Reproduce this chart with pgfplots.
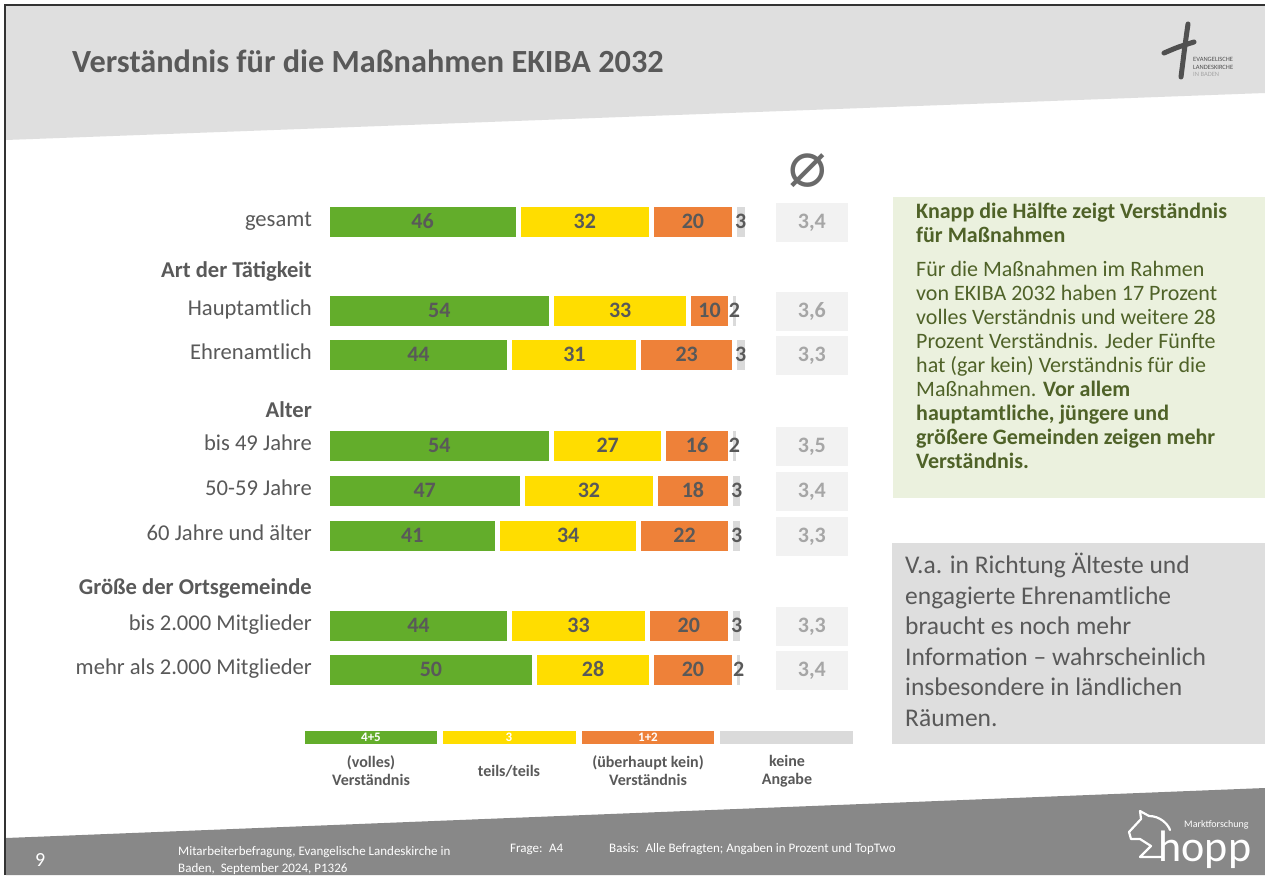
\documentclass[border=0pt]{standalone}
\usepackage{pgfplots}
\pgfplotsset{compat=1.18}
\usepackage{pgfplotstable}
\usepackage{fontspec}
\setmainfont{Carlito}
\newfontfamily\djv{DejaVu Sans}
\definecolor{cgreen}{HTML}{63AD2B}
\definecolor{cyellow}{HTML}{FFDD00}
\definecolor{corange}{HTML}{EE8139}
\definecolor{cgray}{HTML}{DADADA}
\definecolor{avgfill}{HTML}{F2F2F2}
\definecolor{avgtext}{HTML}{A6A6A6}
\definecolor{bartext}{HTML}{595959}
\definecolor{labeltext}{HTML}{595959}
\definecolor{headband}{HTML}{DFDFDF}
\definecolor{footband}{HTML}{888888}
\definecolor{boxgreen}{HTML}{EBF1DE}
\definecolor{boxgreentext}{HTML}{4F6228}
\definecolor{boxgray}{HTML}{DEDEDE}
\definecolor{logogray}{HTML}{505050}
\newcommand{\fs}[2]{\fontsize{#1}{#2}\selectfont}

\pgfplotstableread{
y a b c d m
-222 46 32 20 3 3.4
-311 54 33 10 2 3.6
-355 44 31 23 3 3.3
-446 54 27 16 2 3.5
-491 47 32 18 3 3.4
-536 41 34 22 3 3.3
-626 44 33 20 3 3.3
-670 50 28 20 2 3.4
}\data

\begin{document}
\begin{tikzpicture}
\begin{scope}[x=1pt,y=1pt]
\path[use as bounding box] (0,0) rectangle (1265,-875);
\fill[white] (0,0) rectangle (1265,-875);
% header band
\fill[headband] (6,-6) -- (1265,-6) -- (1265,-93) -- (6,-140) -- cycle;
% footer band
\fill[footband] (6,-838) -- (1265,-788) -- (1265,-875) -- (6,-875) -- cycle;
% frame lines
\draw[line width=1.5pt, black!80] (5,-875) -- (5,-5) -- (1265,-5);
% title
\node[anchor=base west, inner sep=0pt, font=\fs{32.3}{34}\bfseries, text=bartext] at (72,-73) {Verständnis für die Maßnahmen EKIBA 2032};
% top-right logo
\draw[logogray, line width=5pt, line cap=round] (1188,-24) .. controls (1185,-45) .. (1181,-77);
\draw[logogray, line width=5pt, line cap=round] (1164,-53) .. controls (1178,-47) .. (1194,-42);
\node[anchor=base west, inner sep=0pt, align=left, font=\fs{6.5}{8}, text=logogray] at (1193,-77) {EVANGELISCHE\\LANDESKIRCHE\\\textcolor{gray!70}{IN BADEN}};
% diameter sign
\node[font=\djv\fs{64}{66}, text=bartext!90, inner sep=0pt] at (808,-171) {⌀};
% legend
\fill[cgreen] (305,-731) rectangle (437,-744);
\fill[cyellow] (443,-731) rectangle (576,-744);
\fill[corange] (582,-731) rectangle (714,-744);
\fill[cgray] (720,-731) rectangle (853,-744);
\node[text=white, font=\fs{13}{14}\bfseries, inner sep=0pt] at (371,-737.5) {4+5};
\node[text=white, font=\fs{13}{14}\bfseries, inner sep=0pt] at (509,-737.5) {3};
\node[text=white, font=\fs{13}{14}\bfseries, inner sep=0pt] at (648,-737.5) {1+2};
\node[align=center, font=\fs{16}{18}\bfseries, text=bartext] at (371,-771) {(volles)\\Verständnis};
\node[align=center, font=\fs{16}{18}\bfseries, text=bartext] at (509,-771) {teils/teils};
\node[align=center, font=\fs{16}{18}\bfseries, text=bartext] at (648,-771) {(überhaupt kein)\\Verständnis};
\node[align=center, font=\fs{16}{18}\bfseries, text=bartext] at (787,-771) {keine\\Angabe};
% green text box
\fill[boxgreen] (893,-197) rectangle (1265,-498);
\node[anchor=base west, inner sep=0pt, align=left, font=\fs{22}{24}, text=boxgreentext] at (916,-468) {\textbf{Knapp die Hälfte zeigt Verständnis}\\\textbf{für Maßnahmen}\\[10pt]Für die Maßnahmen im Rahmen\\von EKIBA 2032 haben 17 Prozent\\volles Verständnis und weitere 28\\Prozent Verständnis. Jeder Fünfte\\hat (gar kein) Verständnis für die\\Maßnahmen. \textbf{Vor allem}\\\textbf{hauptamtliche, jüngere und}\\\textbf{größere Gemeinden zeigen mehr}\\\textbf{Verständnis.}};
% gray text box
\fill[boxgray] (892,-543) rectangle (1265,-744);
\node[anchor=base west, inner sep=0pt, align=left, font=\fs{25.5}{30.6}, text=bartext] at (905,-726.5) {V.a. in Richtung Älteste und\\engagierte Ehrenamtliche\\braucht es noch mehr\\Information – wahrscheinlich\\insbesondere in ländlichen\\Räumen.};
% footer text
\node[anchor=base west, inner sep=0pt, text=white, font=\fs{20}{22}] at (35,-866) {9};
\node[anchor=base west, inner sep=0pt, align=left, text=white, font=\fs{13}{17}] at (178,-872) {Mitarbeiterbefragung, Evangelische Landeskirche in\\Baden,~ September 2024, P1326};
\node[anchor=base west, inner sep=0pt, text=white, font=\fs{13}{14}] at (510,-852) {Frage:\enspace A4};
\node[anchor=base west, inner sep=0pt, text=white, font=\fs{13}{14}] at (609,-852) {Basis:\enspace Alle Befragten; Angaben in Prozent und TopTwo};
% hopp logo
\node[anchor=base west, inner sep=0pt, text=white, font=\fs{44}{46}] (hh) at (1158,-861) {h};
\node[anchor=base west, inner sep=0pt, text=white, font=\fs{44}{46}] at (hh.base east) {opp};
\node[anchor=base west, inner sep=0pt, text=white, font=\fs{10}{11}] at (1184,-827) {Marktforschung};
\draw[white, line width=2.2pt, line join=round, line cap=round] (1163,-857) -- (1140,-857) -- (1151,-846) -- (1140,-839) -- (1131,-839) -- (1129,-832) -- (1141,-819) -- (1140,-811) -- (1149,-816) .. controls (1160,-816) and (1168,-824) .. (1170,-830);
\end{scope}

% stacked bars
\begin{axis}[
  at={(327pt,-700pt)}, anchor=south west,
  scale only axis, width=420pt, height=510pt,
  xmin=0, xmax=101, ymin=-700, ymax=-190,
  xbar stacked, bar width=35pt,
  axis x line=none, axis y line=left,
  axis line style={draw=none}, tick style={draw=none},
  major tick length=0pt,
  ytick={-670,-626,-590,-536,-491,-446,-413,-355,-311,-273,-222},
  yticklabels={mehr als 2.000 Mitglieder, bis 2.000 Mitglieder, \textbf{Größe der Ortsgemeinde}, 60 Jahre und älter, 50-59 Jahre, bis 49 Jahre, \textbf{Alter}, Ehrenamtlich, Hauptamtlich, \textbf{Art der Tätigkeit}, gesamt},
  yticklabel style={anchor=east, inner sep=0pt, xshift=-15pt, yshift=-1.5pt, font=\fs{22.6}{24}, text=labeltext, text height=0.66em, text depth=0pt},
  clip=false,
]
\addplot[fill=cgreen, draw=white, line width=5pt] table[x=a, y=y] {\data};
\addplot[fill=cyellow, draw=white, line width=5pt] table[x=b, y=y] {\data};
\addplot[fill=corange, draw=white, line width=5pt] table[x=c, y=y] {\data};
\addplot[fill=cgray, draw=white, line width=5pt] table[x=d, y=y] {\data};
\end{axis}

% labels and averages
\begin{axis}[
  at={(327pt,-700pt)}, anchor=south west,
  scale only axis, width=420pt, height=510pt,
  xmin=0, xmax=101, ymin=-700, ymax=-190,
  hide axis, clip=false,
  /pgf/number format/assume math mode=true,
  nodes near coords style={font=\fs{22}{24}\bfseries, text=bartext, anchor=center, inner sep=0pt, yshift=-3pt, text height=0.63em, text depth=0pt},
]
\addplot[draw=none, mark=none, nodes near coords, point meta=explicit] table[x expr=\thisrow{a}/2, y=y, meta=a] {\data};
\addplot[draw=none, mark=none, nodes near coords, point meta=explicit] table[x expr=\thisrow{a}+\thisrow{b}/2, y=y, meta=b] {\data};
\addplot[draw=none, mark=none, nodes near coords, point meta=explicit] table[x expr=\thisrow{a}+\thisrow{b}+\thisrow{c}/2, y=y, meta=c] {\data};
\addplot[draw=none, mark=none, nodes near coords, point meta=explicit] table[x expr=\thisrow{a}+\thisrow{b}+\thisrow{c}+\thisrow{d}/2, y=y, meta=d] {\data};
\addplot[draw=none, mark=none, point meta=explicit,
  nodes near coords={\pgfmathprintnumber[fixed,fixed zerofill,precision=1,use comma,assume math mode=true]{\pgfplotspointmeta}},
  nodes near coords style={fill=avgfill, text=avgtext, yshift=3pt, minimum width=72pt, minimum height=39pt, text height=1.26em, text depth=0pt}]
  table[x expr=116.6, y=y, meta=m] {\data};
\end{axis}
\end{tikzpicture}
\end{document}
